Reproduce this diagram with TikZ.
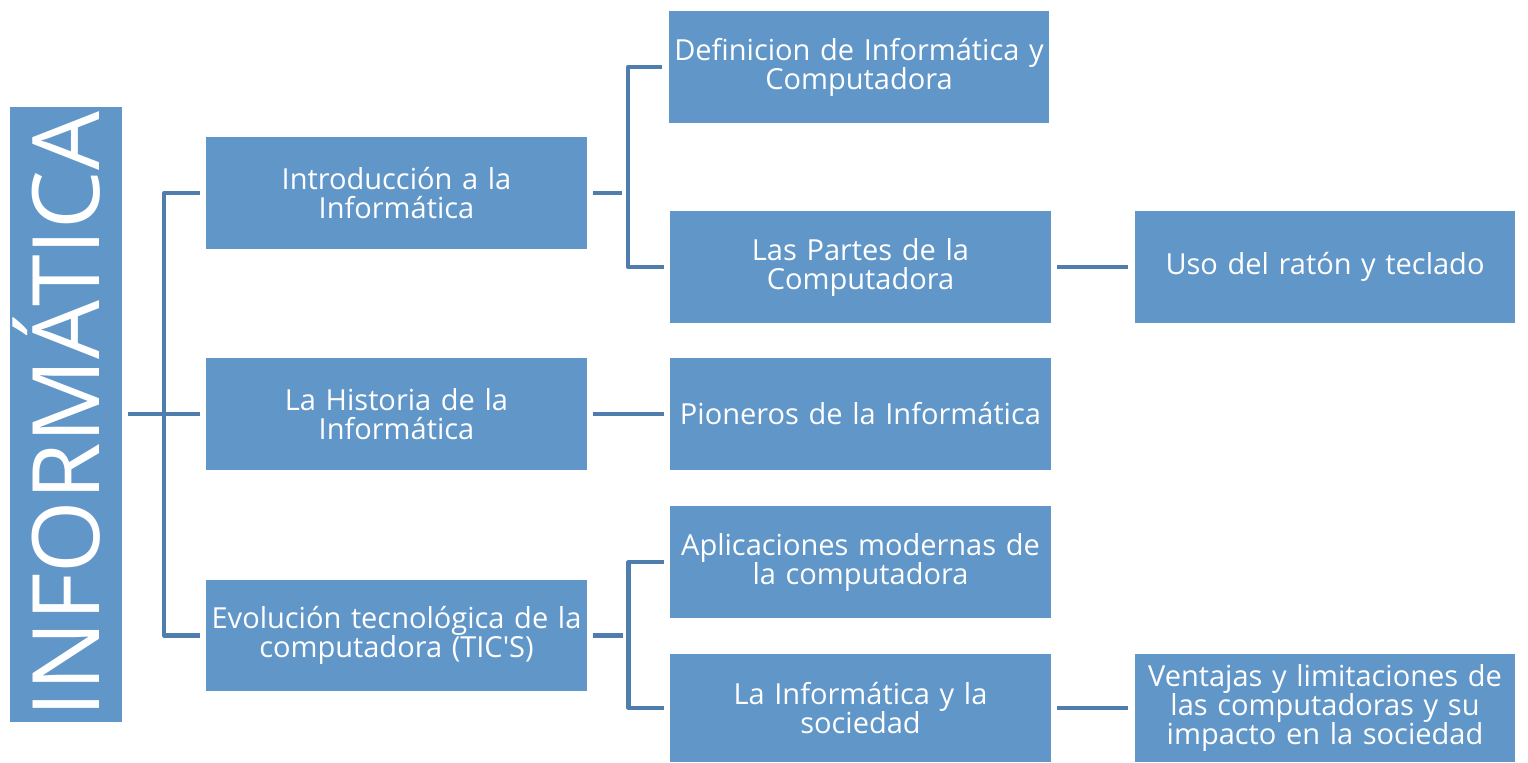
\documentclass[tikz,border=0pt]{standalone}
\usepackage{fontspec}
\setmainfont{Open Sans}
\usetikzlibrary{calc}
\definecolor{caja}{RGB}{97,150,200}
\definecolor{linea}{RGB}{79,126,174}
\tikzset{
    caja/.style={fill=caja, text=white, align=center, inner sep=0pt,
      minimum width=7.62cm, minimum height=2.24cm, text width=7.6cm,
      font=\fontsize{16.5}{16.5}\selectfont},
    link/.style={draw=linea, line width=2.3pt, line join=round,
      shorten <=3.4pt, shorten >=3.4pt},
  }
\begin{document}
\begin{tikzpicture}[x=0.02cm, y=-0.02cm]
  \useasboundingbox (0,0) rectangle (1528,763);
  %TITULO
  \node[fill=caja, text=white, rotate=90, minimum width=12.3cm, minimum height=2.24cm,
        inner sep=0pt, text height=38pt, text depth=0pt,
        font=\fontsize{53}{53}\selectfont] (titulo) at (66,414.5) {INFORMÁTICA};

  %NIVEL 1
  \node[caja] (intro) at (396.5,193) {Introducción a la\\Informática};
  \node[caja] (hist) at (396.5,414) {La Historia de la\\Informática};
  \node[caja] (evol) at (396.5,635.5) {Evolución tecnológica de la\\computadora (TIC\textquotesingle S)};

  %NIVEL 2
  \node[caja] (defi) at (859,67) {Definicion de Informática y\\Computadora};
  \node[caja] (partes) at (860.5,267) {Las Partes de la\\Computadora};
  \node[caja] (pion) at (860.5,414) {Pioneros de la Informática};
  \node[caja] (apli) at (860.5,562) {Aplicaciones modernas de\\la computadora};
  \node[caja, minimum height=2.16cm] (soc) at (860.5,708) {La Informática y la\\sociedad};

  %NIVEL 3
  \node[caja] (uso) at (1325,267) {Uso del ratón y teclado};
  \node[caja, minimum height=2.16cm] (vent) at (1325,708) {Ventajas y limitaciones de\\las computadoras y su\\impacto en la sociedad};

  %CONECTORES
  \coordinate (m1) at ($(titulo.south)!.5!(intro.west)$);
  \coordinate (m2) at ($(intro.east)!.5!(defi.west)$);
  \coordinate (m3) at ($(evol.east)!.5!(apli.west)$);
  \draw[link] (titulo.south |- hist) -- (hist.west);
  \draw[link] (intro.west) -| (m1) |- (evol.west);
  \draw[link] (intro.east) -- (m2 |- intro.east);
  \draw[link] (defi.west) -| (m2) |- (partes.west);
  \draw[link] (hist.east) -- (pion.west);
  \draw[link] (evol.east) -- (m3 |- evol.east);
  \draw[link] (apli.west) -| (m3) |- (soc.west);
  \draw[link] (partes.east) -- (uso.west);
  \draw[link] (soc.east) -- (vent.west);
\end{tikzpicture}
\end{document}
